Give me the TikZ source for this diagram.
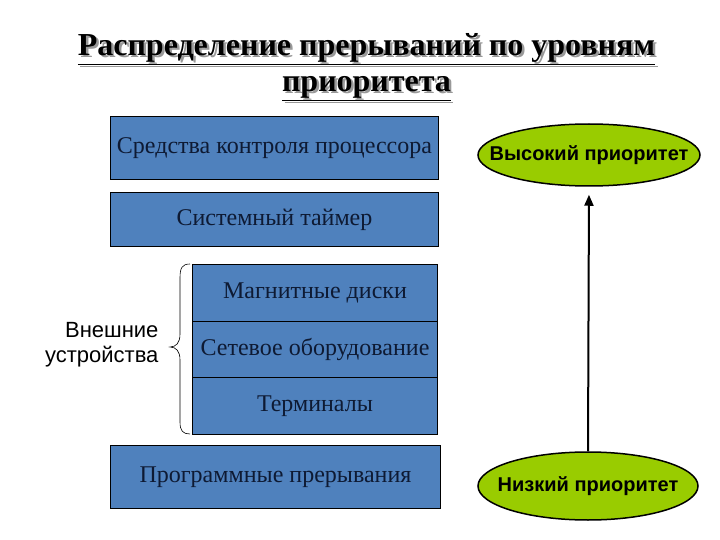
\documentclass[tikz,border=0pt]{standalone}
\usepackage{fontspec}
\setmainfont{Liberation Serif}
\newfontfamily\arialf{Liberation Sans}
\usetikzlibrary{shapes.geometric,arrows.meta}
\definecolor{boxblue}{HTML}{4F81BD}
\definecolor{boxtext}{HTML}{0E1A33}
\definecolor{ellgreen}{HTML}{99CC00}
\tikzset{
  blk/.style={draw=black, line width=1pt, fill=boxblue, text=boxtext, inner sep=0pt,
    font=\fontsize{24}{26}\selectfont, anchor=north west},
  prio/.style={ellipse, draw=black, line width=1.5pt, fill=ellgreen, inner sep=0pt},
  priotext/.style={inner sep=0pt, font=\arialf\bfseries\fontsize{20}{22}\selectfont},
  ttl/.style={font=\bfseries\fontsize{32}{36}\selectfont, align=center}
}
\begin{document}
\begin{tikzpicture}[x=1pt,y=-1pt]
\useasboundingbox[fill=white] (0,0) rectangle (720,540);
% title with shadow
\node[ttl, text=black!40] (tshadow) at (369,69) {\underline{Распределение прерываний по уровням}\\\underline{приоритета}};
\node[ttl] (title) at (366.5,67) {\underline{Распределение прерываний по уровням}\\\underline{приоритета}};
% boxes
\node[blk, minimum width=328pt, minimum height=63pt] (b1) at (110,116) {Средства контроля процессора};
\node[blk, minimum width=328pt, minimum height=54pt] (b2) at (110,192) {Системный таймер};
\node[blk, minimum width=245pt, minimum height=57pt] (b3) at (192,264) {Магнитные диски};
\node[blk, minimum width=245pt, minimum height=56pt] (b4) at (192,321) {Сетевое оборудование};
\node[blk, minimum width=245pt, minimum height=57pt] (b5) at (192,377) {Терминалы};
\node[blk, minimum width=330pt, minimum height=63pt] (b6) at (110,445) {Программные прерывания};
% brace
\draw[line width=0.6pt] (b3.north west) ++(-2,0) coordinate (bt)
  .. controls (182,264) and (180,268) .. (180,278) -- (180,334)
  .. controls (180,343) and (176,347) .. (170,347) coordinate (btip)
  .. controls (176,347) and (180,351) .. (180,360) -- (180,422)
  .. controls (180,431) and (183,434) .. (190,434) coordinate (bb);
\node[font=\arialf\fontsize{22}{25}\selectfont, align=right, anchor=east] (ext) at (162,345) {Внешние\\устройства};
% priorities
\node[prio, minimum width=222pt, minimum height=62pt] (hi) at (589,155) {};
\node[priotext] (hitext) at (hi.center) {Высокий приоритет};
\node[prio, minimum width=220pt, minimum height=68pt] (lo) at (588,486) {};
\node[priotext] (lotext) at (lo.center) {Низкий приоритет};
\draw[line width=2pt, -{Triangle[length=11pt,width=9pt]}, shorten >=8pt] (lo.north) -- (hi.south);
\end{tikzpicture}
\end{document}
